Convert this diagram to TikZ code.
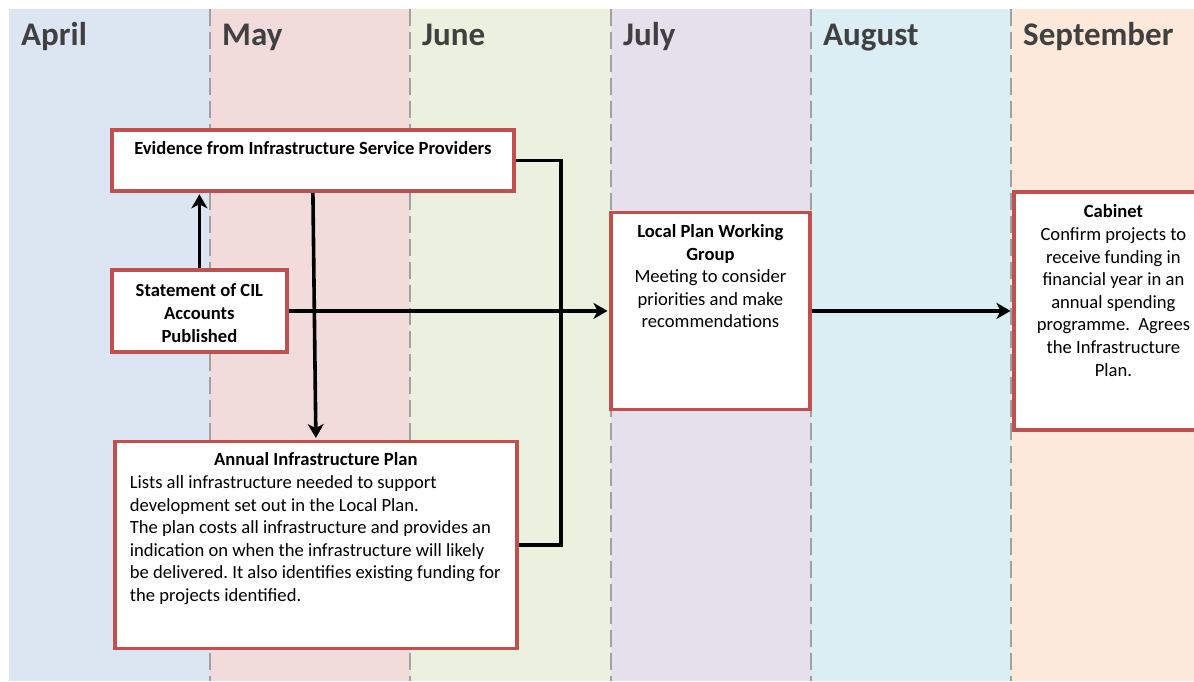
\documentclass[tikz,border=0pt]{standalone}
\usepackage{fontspec}
\setmainfont{Carlito}
\usetikzlibrary{arrows.meta}
\definecolor{cApr}{HTML}{DCE6F2}
\definecolor{cMay}{HTML}{F2DCDB}
\definecolor{cJun}{HTML}{EBF1DE}
\definecolor{cJul}{HTML}{E5E0EC}
\definecolor{cAug}{HTML}{DBEEF4}
\definecolor{cSep}{HTML}{FDE9D9}
\definecolor{boxred}{HTML}{C0504D}
\definecolor{divgray}{HTML}{A0A0A0}
\definecolor{monthtxt}{HTML}{404040}
\frenchspacing
\newcommand\boxpar[4]{\parbox[c][#2][t]{#1}{\fontsize{18.6}{22.6}\selectfont\centering\rule{0pt}{#3}#4\par}}
\begin{document}
\begin{tikzpicture}[x=1pt,y=-1pt,
  month/.style={anchor=base west, font=\fontsize{33}{39}\selectfont\bfseries, text=monthtxt, inner sep=0pt},
  divider/.style={draw=divgray, line width=1.8pt, dash pattern=on 17pt off 6pt},
  box/.style={draw=boxred, line width=3.8pt, fill=white, inner sep=0pt, anchor=north west},
  conn/.style={line width=3.6pt, black, line join=miter},
  arr/.style={conn, shorten >=1.5pt, -{Stealth[length=14pt,width=16pt,inset=4pt]}},
]
\useasboundingbox (0,0) rectangle (1194,681);
\fill[white] (0,0) rectangle (1194,681);
\fill[cApr] (9,9) rectangle (210,681);
\fill[cMay] (210,9) rectangle (410,681);
\fill[cJun] (410,9) rectangle (611,681);
\fill[cJul] (611,9) rectangle (811,681);
\fill[cAug] (811,9) rectangle (1011,681);
\fill[cSep] (1011,9) rectangle (1194,681);
\foreach \x in {210,410,611,811,1011} \draw[divider] (\x,9) -- (\x,681);

\node[month] (mApr) at (21,45) {April};
\node[month] (mMay) at (222,45) {May};
\node[month] (mJun) at (422,45) {June};
\node[month] (mJul) at (623,45) {July};
\node[month] (mAug) at (823,45) {August};
\node[month] (mSep) at (1023,45) {September};

\node[box] (ev) at (110,128) {\boxpar{402pt}{61pt}{25pt}{\bfseries Evidence from Infrastructure Service Providers}};
\node[box] (st) at (110,268) {\boxpar{175pt}{82pt}{27pt}{\bfseries Statement of CIL\\Accounts\\Published}};
\node[box] (ann) at (113,439.5) {\parbox[c][207pt][t]{402pt}{\fontsize{18.6}{22.6}\selectfont
  {\centering\rule{0pt}{24.5pt}\bfseries Annual Infrastructure Plan\par}
  \raggedright\leftskip=15pt
  Lists all infrastructure needed to support\\
  development set out in the Local Plan.\\
  The plan costs all infrastructure and provides an\\
  indication on when the infrastructure will likely\\
  be delivered. It also identifies existing funding for\\
  the projects identified.\par}};
\node[box] (lp) at (609,210.5) {\boxpar{199pt}{197pt}{25pt}{{\bfseries Local Plan Working\\Group}\\Meeting to consider\\priorities and make\\recommendations}};
\node[box] (cab) at (1012,190) {\boxpar{199pt}{238pt}{26pt}{{\bfseries Cabinet}\\Confirm projects to\\receive funding in\\financial year in an\\annual spending\\programme.\ \ Agrees\\the Infrastructure\\Plan.}};

\coordinate (rt) at (561,300);
\draw[arr] (st.north) -- (st.north |- ev.south);
\draw[arr] (ev.south) -- (ann.north);
\draw[conn] (ev.east) -| (rt) |- (ann.east);
\draw[arr] (st.east) -- (lp.west);
\draw[arr] (lp.east) -- (cab.west);
\end{tikzpicture}
\end{document}
